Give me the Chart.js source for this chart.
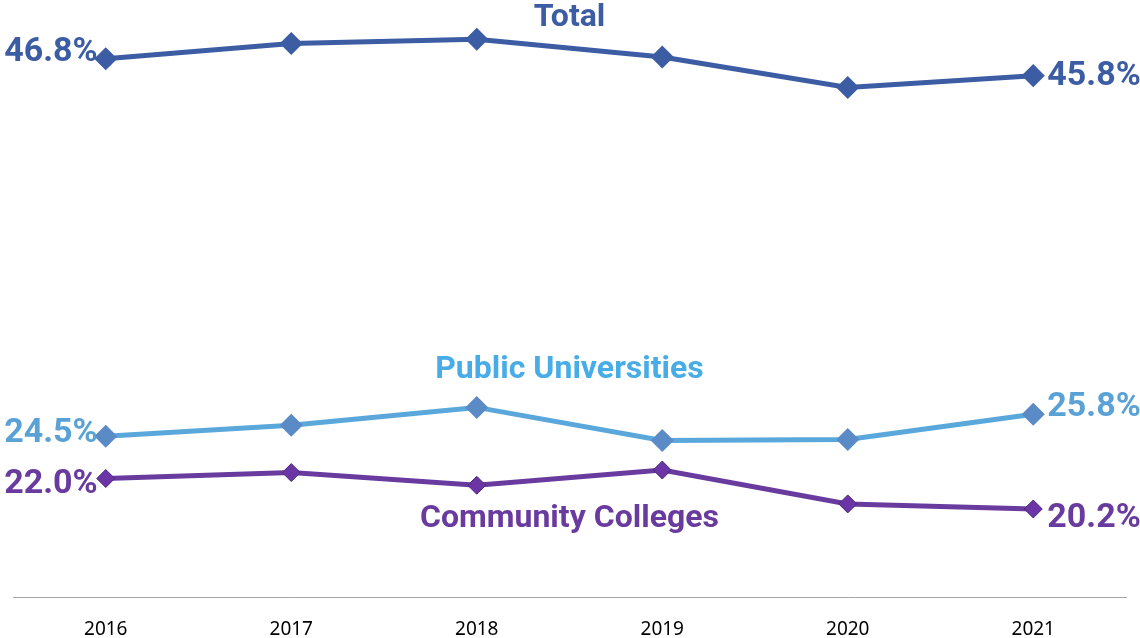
<!DOCTYPE html>
<html>
<head>
<meta charset="utf-8">
<script src="https://cdn.jsdelivr.net/npm/chart.js@4"></script>
<style>
  html, body { margin: 0; padding: 0; background: #fff; }
  #wrap { width: 1140px; height: 638px; }
</style>
</head>
<body>
<div id="wrap"><canvas id="rateChart" width="1140" height="638"></canvas></div>
<script>
const years = ['2016', '2017', '2018', '2019', '2020', '2021'];
const totalRate = [46.8, 47.7, 47.95, 46.9, 45.1, 45.8];
const publicRate = [24.5, 25.15, 26.2, 24.25, 24.3, 25.8];
const communityRate = [22.0, 22.35, 21.6, 22.5, 20.5, 20.2];

const blue = '#3C5DA3';
const lightBlue = '#5AA7DC';
const purple = '#6A3B9F';

// end labels + series names, placed through the scales
const labelPlugin = {
    id: 'seriesLabels',
    afterDatasetsDraw(chart) {
        const ctx = chart.ctx;
        const x = chart.scales.x;
        const y = chart.scales.y;
        const last = years.length - 1;
        const pct = v => v.toFixed(1) + '%';
        const ends = [
            { data: totalRate, color: blue, dl: -6, dr: 1 },
            { data: publicRate, color: '#5AA2D6', dl: -3, dr: -7 },
            { data: communityRate, color: purple, dl: 6, dr: 10 }
        ];
        ctx.save();
        ctx.font = 'bold 34px Roboto';
        ctx.textBaseline = 'middle';
        ends.forEach(s => {
            ctx.fillStyle = s.color;
            ctx.textAlign = 'right';
            ctx.fillText(pct(s.data[0]), x.getPixelForValue(0) - 8, y.getPixelForValue(s.data[0]) + s.dl);
            ctx.textAlign = 'left';
            ctx.fillText(pct(s.data[last]), x.getPixelForValue(last) + 14, y.getPixelForValue(s.data[last]) + s.dr);
        });
        const mid = (chart.chartArea.left + chart.chartArea.right) / 2;
        ctx.textAlign = 'center';
        ctx.font = 'bold 32px Roboto';
        ctx.fillStyle = blue;
        ctx.fillText('Total', mid, y.getPixelForValue(49.2));
        ctx.fillStyle = '#48ACE6';
        ctx.fillText('Public Universities', mid, y.getPixelForValue(28.4));
        ctx.fillStyle = purple;
        ctx.fillText('Community Colleges', mid, y.getPixelForValue(19.6));
        ctx.restore();
    }
};

new Chart(document.getElementById('rateChart'), {
    type: 'line',
    data: {
        labels: years,
        datasets: [{
            label: 'Total',
            data: totalRate,
            borderColor: blue,
            backgroundColor: blue,
            pointBorderColor: blue,
            borderWidth: 5,
            pointStyle: 'rectRot',
            pointRadius: 8,
            fill: false
        }, {
            label: 'Public Universities',
            data: publicRate,
            borderColor: lightBlue,
            backgroundColor: '#5B8BC6',
            pointBorderColor: '#5B8BC6',
            borderWidth: 5,
            pointStyle: 'rectRot',
            pointRadius: 8,
            fill: false
        }, {
            label: 'Community Colleges',
            data: communityRate,
            borderColor: purple,
            backgroundColor: '#6B35A5',
            pointBorderColor: '#4A2A7A',
            pointBorderWidth: 1,
            borderWidth: 5,
            pointStyle: 'rectRot',
            pointRadius: 9,
            fill: false
        }]
    },
    options: {
        responsive: false,
        animation: false,
        layout: { padding: { left: 13, right: 14, top: 3, bottom: 0 } },
        plugins: {
            legend: { display: false },
            tooltip: { enabled: false }
        },
        scales: {
            x: {
                offset: true,
                grid: { display: false, drawTicks: false },
                border: { display: true, color: '#A6A6A6', width: 1 },
                ticks: { color: '#000', font: { family: 'Noto Sans', size: 19 }, padding: 21 },
                afterFit(scale) { scale.height = 41; }
            },
            y: {
                display: false,
                min: 15,
                max: 49.5
            }
        }
    },
    plugins: [labelPlugin]
});
</script>
</body>
</html>
